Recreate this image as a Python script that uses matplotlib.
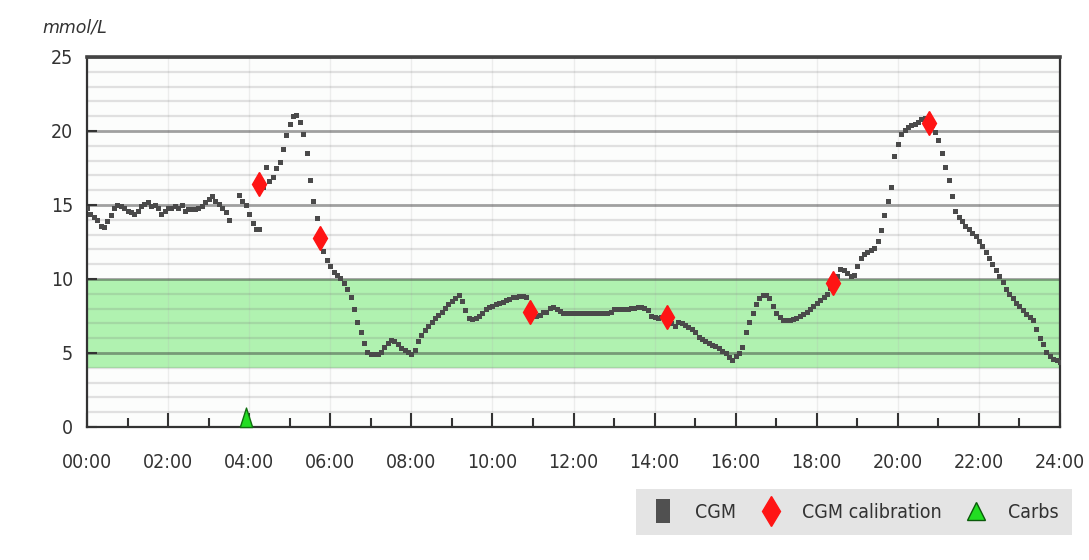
import numpy as np
import matplotlib
matplotlib.use('Agg')
import matplotlib.pyplot as plt
from matplotlib.lines import Line2D
from matplotlib.path import Path
from matplotlib.ticker import MultipleLocator

plt.rcParams['font.family'] = ['DejaVu Sans']
plt.rcParams['font.stretch'] = 'condensed'

nan = float('nan')

# ---------------- data ----------------
cgm_step_minutes = 5
# CGM readings (mmol/L), one row per hour, 5-minute steps
cgm_values = [
    14.8, 14.4, 14.2, 14.0, 13.6, 13.5, 13.9, 14.3, 14.8, 15.0, 14.9, 14.8,   # 00
    14.6, 14.5, 14.4, 14.6, 14.9, 15.1, 15.2, 14.9, 15.0, 14.8, 14.4, 14.6,   # 01
    14.8, 14.8, 14.9, 14.8, 15.0, 14.6, 14.7, 14.7, 14.7, 14.8, 14.9, 15.2,   # 02
    15.4, 15.6, 15.3, 15.1, 14.8, 14.5, 14.0, nan, nan, 15.7, 15.3, 15.0,     # 03
    14.4, 13.8, 13.4, 13.4, 16.2, 17.6, 16.6, 16.9, 17.5, 17.9, 18.8, 19.7,   # 04
    20.5, 21.0, 21.1, 20.6, 19.8, 18.5, 16.7, 15.3, 14.1, 12.8, 11.9, 11.3,   # 05
    10.9, 10.5, 10.3, 10.05, 9.7, 9.3, 8.8, 8.0, 7.1, 6.4, 5.7, 5.1,          # 06
    4.93, 4.9, 4.95, 5.1, 5.4, 5.65, 5.85, 5.8, 5.6, 5.35, 5.2, 5.05,         # 07
    4.95, 5.2, 5.8, 6.25, 6.55, 6.85, 7.1, 7.35, 7.6, 7.8, 8.05, 8.3,         # 08
    8.5, 8.75, 8.9, 8.5, 7.9, 7.35, 7.3, 7.35, 7.5, 7.7, 7.95, 8.1,           # 09
    8.2, 8.3, 8.35, 8.45, 8.55, 8.65, 8.8, 8.8, 8.85, 8.85, 8.8, 8.0,         # 10
    7.55, 7.5, 7.6, 7.75, 7.8, 8.05, 8.1, 7.95, 7.85, 7.7, 7.7, 7.7,          # 11
    7.7, 7.7, 7.68, 7.68, 7.7, 7.7, 7.7, 7.7, 7.72, 7.72, 7.72, 7.75,         # 12
    7.95, 7.95, 8.0, 8.0, 8.0, 8.05, 8.05, 8.1, 8.1, 8.05, 7.9, 7.5,          # 13
    7.4, 7.35, 7.4, 7.45, 7.4, 7.0, 6.8, 7.1, 7.05, 6.9, 6.75, 6.6,           # 14
    6.4, 6.1, 5.95, 5.8, 5.7, 5.55, 5.45, 5.35, 5.15, 5.0, 4.75, 4.5,         # 15
    4.8, 5.0, 5.4, 6.4, 7.1, 7.7, 8.3, 8.7, 8.95, 8.95, 8.7, 8.2,             # 16
    7.7, 7.4, 7.25, 7.2, 7.2, 7.3, 7.35, 7.5, 7.65, 7.8, 7.95, 8.15,          # 17
    8.4, 8.6, 8.8, 9.0, 9.4, 9.75, 10.2, 10.7, 10.6, 10.4, 10.2, 10.3,        # 18
    10.9, 11.4, 11.7, 11.85, 11.95, 12.1, 12.6, 13.3, 14.3, 15.3, 16.2, 18.3, # 19
    19.1, 19.8, 20.1, 20.3, 20.4, 20.5, 20.6, 20.8, 20.9, 20.7, 20.4, 19.9,   # 20
    19.4, 18.5, 17.6, 16.7, 15.6, 14.6, 14.2, 13.9, 13.6, 13.4, 13.1, 12.9,   # 21
    12.6, 12.2, 11.8, 11.4, 11.0, 10.6, 10.2, 9.8, 9.3, 9.0, 8.7, 8.4,        # 22
    8.15, 7.9, 7.65, 7.45, 7.2, 6.6, 6.0, 5.6, 5.1, 4.8, 4.6, 4.5,            # 23
    4.4,                                                                      # 24:00
]

cal_hours = [4.25, 5.75, 10.93, 14.30, 18.41, 20.78]
cal_values = [16.4, 12.75, 7.75, 7.45, 9.75, 20.56]

carb_hours = [3.93]
carb_values = [0.0]

x_ticks = [0, 2, 4, 6, 8, 10, 12, 14, 16, 18, 20, 22, 24]
x_tick_labels = ['00:00', '02:00', '04:00', '06:00', '08:00', '10:00', '12:00',
                 '14:00', '16:00', '18:00', '20:00', '22:00', '24:00']
y_ticks = [0, 5, 10, 15, 20, 25]
target_low, target_high = 4, 10
legend_labels = ['CGM', 'CGM calibration', 'Carbs']
y_unit = 'mmol/L'

# ---------------- figure ----------------
W, H = 1089, 560
fig = plt.figure(figsize=(W / 100, H / 100), dpi=100, facecolor='white')
L, R, T, B = 87, 1060, 57, 427
ax = fig.add_axes([L / W, 1 - B / H, (R - L) / W, (B - T) / H])
ax.set_xlim(0, 24)
ax.set_ylim(0, 25)
ax.set_facecolor('#fcfdfc')

# target range band
ax.axhspan(target_low, target_high, color='#b0f2b0', zorder=0.2, lw=0)

# grid
ax.set_axisbelow(True)
ax.set_yticks(y_ticks)
ax.yaxis.set_minor_locator(MultipleLocator(1))
ax.grid(which='major', axis='y', color='#303030', alpha=0.45, lw=2.0)
ax.grid(which='minor', axis='y', color='#707070', alpha=0.2, lw=1.6)
ax.set_xticks(x_ticks)
ax.set_xticklabels(x_tick_labels)
ax.set_xticks(range(1, 24, 2), minor=True)
ax.grid(which='major', axis='x', color='#b0b0b0', alpha=0.2, lw=1.0)

# CGM readings
times = np.arange(len(cgm_values)) * cgm_step_minutes / 60.0
ax.plot(times, cgm_values, linestyle='none', marker='s', ms=3.6, mew=0,
        color='#4a4a4a', zorder=3)

# calibrations
ax.plot(cal_hours, cal_values, linestyle='none', marker='d', ms=12,
        color='#ff1414', mec='#ff1414', zorder=4)

# carbs (triangle sitting on baseline)
tri = Path([(-0.32, 0.0), (0.32, 0.0), (0.0, 1.0), (-0.32, 0.0)],
           [Path.MOVETO, Path.LINETO, Path.LINETO, Path.CLOSEPOLY])
ax.plot(carb_hours, carb_values, linestyle='none', marker=tri, ms=28,
        mfc='#22dd22', mec='#0f6f0f', mew=1.0, clip_on=False, zorder=5)

# ticks
ax.tick_params(axis='x', which='major', direction='in', length=10, width=1.5,
               pad=19, labelsize=14, colors='#333333', labelcolor='#333333')
ax.tick_params(axis='x', which='minor', direction='in', length=6.5, width=1.5,
               colors='#333333')
ax.tick_params(axis='y', which='major', direction='in', length=7.5, width=1.5,
               pad=10, labelsize=14, colors='#333333')
ax.tick_params(axis='y', which='minor', length=0)

for s in ['left', 'bottom', 'right']:
    ax.spines[s].set_color('#333333')
    ax.spines[s].set_linewidth(1.6)
ax.spines['top'].set_color('#444444')
ax.spines['top'].set_linewidth(2.6)

fig.text(42 / W, 1 - 27 / H, y_unit, style='italic', fontsize=12.5,
         fontstretch='normal', va='center', ha='left', color='#333333')

# legend
rect = Path([(-0.6, -1), (0.6, -1), (0.6, 1), (-0.6, 1), (-0.6, -1)],
            [Path.MOVETO, Path.LINETO, Path.LINETO, Path.LINETO, Path.CLOSEPOLY])
handles = [
    Line2D([], [], linestyle='none', marker=rect, ms=17, color='#505050', mew=0),
    Line2D([], [], linestyle='none', marker='d', ms=15, color='#ff1414'),
    Line2D([], [], linestyle='none', marker='^', ms=13, mfc='#22dd22',
           mec='#0a5a0a', mew=1.0),
]
leg = fig.legend(handles, legend_labels, loc='center',
                 bbox_to_anchor=(((638 + 1070) / 2) / W, 1 - 512 / H),
                 ncol=3, frameon=True, facecolor='#e4e4e4', edgecolor='none',
                 fancybox=False, framealpha=1.0,
                 prop={'size': 14, 'stretch': 'condensed'},
                 handletextpad=0.9, columnspacing=1.1, borderpad=0.7,
                 handlelength=1.4)
for t in leg.get_texts():
    t.set_color('#333333')

fig.savefig('out.png', dpi=100, facecolor=fig.get_facecolor())
